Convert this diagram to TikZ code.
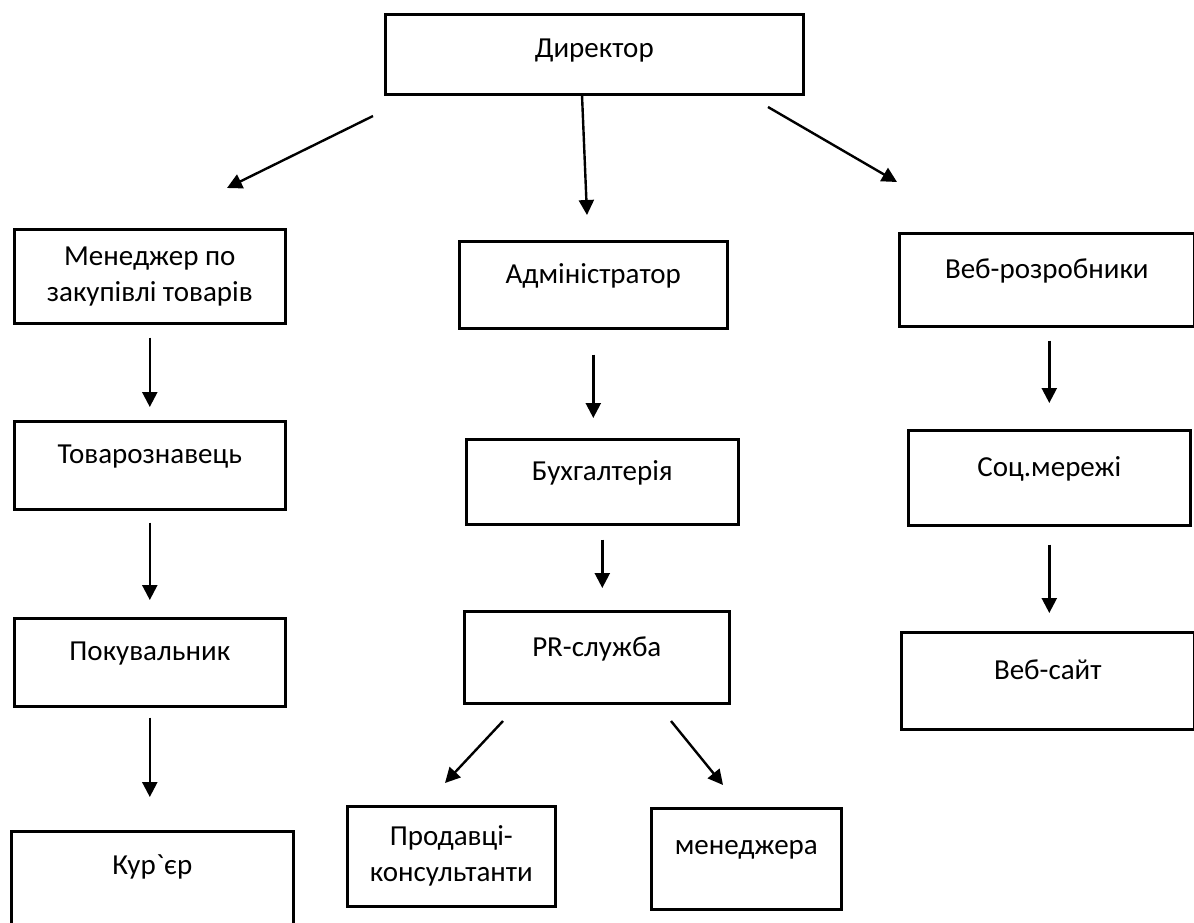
\documentclass[tikz,border=0pt]{standalone}
\usepackage{fontspec}
\setmainfont{Carlito}
\usetikzlibrary{positioning,arrows.meta}
% empty last line, lifts a one-line label above the middle
\newcommand{\liftline}{\\[-7pt]\mbox{}}

\begin{document}
\begin{tikzpicture}[x=0.5pt,y=-0.5pt,>={Triangle[length=7.5pt,width=7.5pt]}]
  \tikzstyle{post}=[draw,line width=1.3pt,anchor=north west,inner sep=0pt,
    align=center,font=\fontsize{14.5}{18}\selectfont]
  \tikzstyle{link}=[->,line width=1.2pt]
  \useasboundingbox (0,0) rectangle (1194,922);
  % top level
  \node[post,minimum width=209pt,minimum height=40pt] (dir) at (384,13) {Директор\\[-12pt]\mbox{}};
  % left column
  \node[post,minimum width=135.5pt,minimum height=47pt] (purch) at (13,228) {Менеджер по\\закупівлі товарів};
  \node[post,minimum width=135.5pt,minimum height=44pt] (merch) at (13,420) {Товарознавець\liftline};
  \node[post,minimum width=135.5pt,minimum height=44pt] (buyer) at (13,617) {Покувальник\liftline};
  \node[post,minimum width=141pt,minimum height=55pt] (courier) at (10,830) {Кур\textasciigrave єр\\[4pt]\mbox{}};
  % middle column
  \node[post,minimum width=134pt,minimum height=43.5pt] (admin) at (458,240) {Адміністратор\liftline};
  \node[post,minimum width=136pt,minimum height=42.5pt] (acct) at (465,438) {Бухгалтерія\liftline};
  \node[post,minimum width=132.5pt,minimum height=46pt] (pr) at (463,610) {PR-служба\liftline};
  \node[post,minimum width=104pt,minimum height=50pt] (sales) at (346,805) {Продавці-\\консультанти};
  \node[post,minimum width=95pt,minimum height=50.5pt] (mgrs) at (650,807) {менеджера\liftline};
  % right column
  \node[post,minimum width=147.5pt,minimum height=46.5pt] (webdev) at (898,232) {Веб-розробники\liftline};
  \node[post,minimum width=141pt,minimum height=47.5pt] (social) at (907,429) {Соц.мережі\liftline};
  \node[post,minimum width=146.5pt,minimum height=48.5pt] (site) at (900,631) {Веб-сайт\liftline};
  % free arrow ends
  \coordinate (dirL) at (373,116);  \coordinate (purchT) at (227,188);
  \coordinate (dirM) at (582,95);   \coordinate (adminT) at (587,215);
  \coordinate (dirR) at (768,107);  \coordinate (webdevT) at (897,182);
  \coordinate (prL) at (503,721);   \coordinate (salesT) at (445,783);
  \coordinate (prR) at (671,721);   \coordinate (mgrsT) at (723,785);
  % connectors
  \draw[link] (dirL) -- (purchT);
  \draw[link] (dirM) -- (adminT);
  \draw[link] (dirR) -- (webdevT);
  \draw[link,shorten <=6.5pt,shorten >=6.5pt] (purch) -- (merch);
  \draw[link,shorten <=6pt,shorten >=8.5pt] (merch) -- (buyer);
  \draw[link,shorten <=5pt,shorten >=16.5pt] (buyer) -- (courier.north -| buyer.south);
  \draw[link,shorten <=12.5pt,shorten >=10pt] (admin.south) -- (admin.south |- acct.north);
  \draw[link,shorten <=7pt,shorten >=11pt] (acct.south) -- (acct.south |- pr.north);
  \draw[link] (prL) -- (salesT);
  \draw[link] (prR) -- (mgrsT);
  \draw[link,shorten <=6.5pt,shorten >=13pt] (social.north |- webdev.south) -- (social.north);
  \draw[link,shorten <=9pt,shorten >=9pt] (social.south) -- (social.south |- site.north);
\end{tikzpicture}
\end{document}
